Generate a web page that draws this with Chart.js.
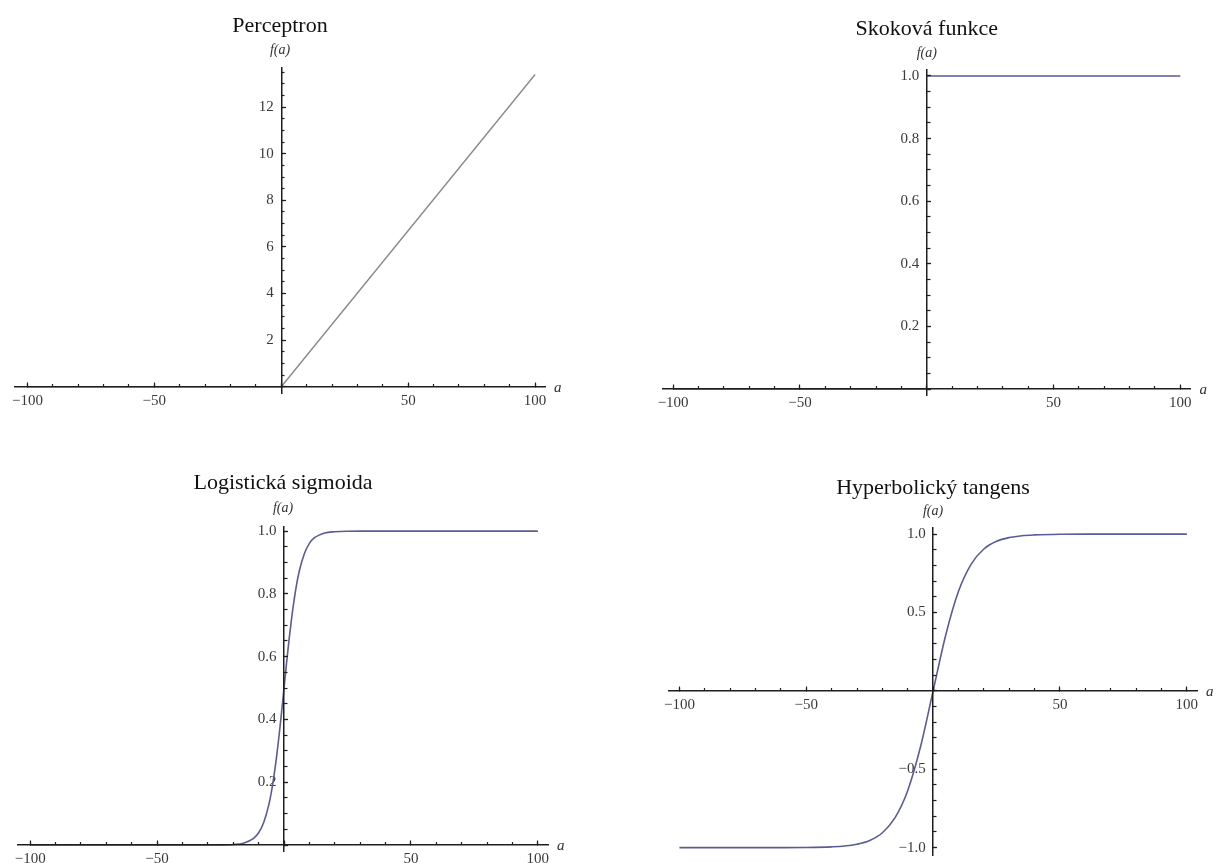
<!DOCTYPE html>
<html>
<head>
<meta charset="utf-8">
<script src="https://cdn.jsdelivr.net/npm/chart.js@4/dist/chart.umd.min.js"></script>
<style>
  body { margin: 0; background: #fff; }
  .cell { position: absolute; }
</style>
</head>
<body>
<div class="cell" style="left:0;top:0"><canvas id="perc" width="612" height="431"></canvas></div>
<div class="cell" style="left:612px;top:0"><canvas id="step" width="612" height="431"></canvas></div>
<div class="cell" style="left:0;top:431px"><canvas id="sig" width="612" height="432"></canvas></div>
<div class="cell" style="left:612px;top:431px"><canvas id="tanh" width="612" height="432"></canvas></div>
<script>
// hodnoty
const percA = [-100, 0, 100];
const percF = [0, 0, 13.4];

const stepA = [-100, 0, 0, 0, 100];
const stepF = [0, 0, null, 1, 1];

const sigA = [-100, -30, -25, -20, -16, -12, -10, -8, -6, -5, -4, -3, -2, -1, 0, 1, 2, 3, 4, 5, 6, 8, 10, 12, 16, 20, 25, 30, 100];
const sigF = [0, 0.0001, 0.0003, 0.0017, 0.006, 0.021, 0.039, 0.072, 0.128, 0.168, 0.218, 0.277, 0.345, 0.42, 0.5, 0.58, 0.655, 0.723, 0.782, 0.832, 0.872, 0.928, 0.961, 0.979, 0.994, 0.998, 0.9997, 1, 1];

const tanhA = [-100, -60, -50, -40, -35, -30, -25, -20, -15, -10, -5, 0, 5, 10, 15, 20, 25, 30, 35, 40, 50, 60, 100];
const tanhF = [-1, -1, -0.999, -0.995, -0.99, -0.978, -0.954, -0.905, -0.809, -0.635, -0.358, 0, 0.358, 0.635, 0.809, 0.905, 0.954, 0.978, 0.99, 0.995, 0.999, 1, 1];

const titles = ['Perceptron', 'Skoková funkce', 'Logistická sigmoida', 'Hyperbolický tangens'];
const yLabel = 'f(a)';
const xLabel = 'a';

const SERIF = "'Liberation Serif', 'Times New Roman', serif";
const AXIS = '#1e1e1e';
const CURVE = '#5b5b99';

Chart.defaults.font.family = SERIF;

function fmt(v, dec) {
  return v.toFixed(dec).replace('-', '\u2212');
}

function zeroSize(s) {
  s.width = s.isHorizontal() ? s.width : 0;
  s.height = s.isHorizontal() ? 0 : s.height;
  s.paddingLeft = s.paddingRight = s.paddingTop = s.paddingBottom = 0;
}

function axes(c) {
  const tickFont = { family: SERIF, size: 15 };
  const common = { type: 'linear', afterFit: zeroSize };
  return {
    x: { ...common, axis: 'x', min: c.xMin, max: c.xMax, position: { y: 0 },
      ticks: { stepSize: 50, autoSkip: false, includeBounds: false, maxRotation: 0, padding: 10,
        color: '#3a3a3a', font: tickFont, callback: v => v === 0 ? '' : fmt(v, 0) },
      grid: { drawOnChartArea: false, tickLength: -5, tickColor: AXIS, tickWidth: 1.2, z: 1 },
      border: { color: AXIS, width: 1.5, z: 1 } },
    x2: { ...common, axis: 'x', min: c.xMin, max: c.xMax, position: { y: 0 },
      ticks: { stepSize: 10, autoSkip: false, includeBounds: false, maxRotation: 0, callback: () => '' },
      grid: { drawOnChartArea: false, tickLength: -3, tickColor: AXIS, tickWidth: 1.2, z: 1 },
      border: { display: false } },
    y: { ...common, axis: 'y', min: c.yMin, max: c.yMax, position: { x: 0 },
      ticks: { stepSize: c.yStep, autoSkip: false, includeBounds: false, padding: 0,
        color: '#3a3a3a', font: tickFont, callback: v => v === 0 ? '' : fmt(v, c.yDec) + '\u2002' },
      grid: { drawOnChartArea: false, tickLength: -5, tickColor: AXIS, tickWidth: 1.2, z: 1 },
      border: { color: AXIS, width: 1.5, z: 1 } },
    y2: { ...common, axis: 'y', min: c.yMin, max: c.yMax, position: { x: 0 },
      ticks: { stepSize: c.yMinor, autoSkip: false, includeBounds: false, padding: 0, callback: () => '' },
      grid: { drawOnChartArea: false, tickLength: -3.5, tickColor: AXIS, tickWidth: 1.2, z: 1 },
      border: { display: false } }
  };
}

// popisek osy "a" na konci vodorovné osy
const axisLetter = {
  id: 'axisLetter',
  afterDraw(chart) {
    const { ctx, chartArea } = chart;
    const y0 = chart.scales.y.getPixelForValue(0);
    ctx.save();
    ctx.font = 'italic 15px ' + SERIF;
    ctx.fillStyle = '#333';
    ctx.textBaseline = 'middle';
    ctx.fillText(xLabel, chartArea.right + 9, y0 + 1);
    ctx.restore();
  }
};

function makeChart(id, c) {
  const pts = c.xs.map((a, i) => ({ x: a, y: c.ys[i] }));
  return new Chart(document.getElementById(id), {
    type: 'line',
    data: {
      datasets: [{
        data: pts,
        borderColor: c.color,
        borderWidth: c.width,
        pointRadius: 0,
        spanGaps: false,
        cubicInterpolationMode: c.smooth ? 'monotone' : 'default',
        tension: 0
      }]
    },
    options: {
      responsive: false,
      animation: false,
      layout: { padding: c.pad },
      scales: axes(c),
      plugins: {
        legend: { display: false },
        tooltip: { enabled: false },
        title: { display: true, text: c.title, fullSize: false, color: '#111',
          font: { family: SERIF, size: 22, weight: 'normal' }, padding: c.tPad },
        subtitle: { display: true, text: yLabel, fullSize: false, color: '#333',
          font: { family: SERIF, size: 14, style: 'italic' }, padding: c.sPad }
      }
    },
    plugins: [axisLetter]
  });
}

makeChart('perc', {
  title: titles[0], xs: percA, ys: percF, color: '#8a8a8a', width: 1.4, smooth: false,
  xMin: -104.9, xMax: 103.9, yMin: -0.27, yMax: 13.68, yStep: 2, yMinor: 0.5, yDec: 0,
  pad: { left: 15, right: 67, top: 0, bottom: 38 },
  tPad: { top: 12.8, bottom: 2.4 }, sPad: { top: 0, bottom: 9.6 }
});

makeChart('step', {
  title: titles[1], xs: stepA, ys: stepF, color: CURVE, width: 1.6, smooth: false,
  xMin: -104, xMax: 104, yMin: -0.019, yMax: 1.019, yStep: 0.2, yMinor: 0.05, yDec: 1,
  pad: { left: 51, right: 33.5, top: 0, bottom: 36 },
  tPad: { top: 15.8, bottom: 2.4 }, sPad: { top: 0, bottom: 8.6 }
});

makeChart('sig', {
  title: titles[2], xs: sigA, ys: sigF, color: CURVE, width: 1.6, smooth: true,
  xMin: -104.8, xMax: 104, yMin: -0.019, yMax: 1.013, yStep: 0.2, yMinor: 0.05, yDec: 1,
  pad: { left: 18, right: 64, top: 0, bottom: 12 },
  tPad: { top: 39.1, bottom: 3.1 }, sPad: { top: 0, bottom: 10.6 }
});

makeChart('tanh', {
  title: titles[3], xs: tanhA, ys: tanhF, color: CURVE, width: 1.6, smooth: true,
  xMin: -104.1, xMax: 104, yMin: -1.047, yMax: 1.039, yStep: 0.5, yMinor: 0.1, yDec: 1,
  pad: { left: 57, right: 27, top: 0, bottom: 8 },
  tPad: { top: 44.1, bottom: 1.8 }, sPad: { top: 0, bottom: 7.9 }
});
</script>
</body>
</html>
